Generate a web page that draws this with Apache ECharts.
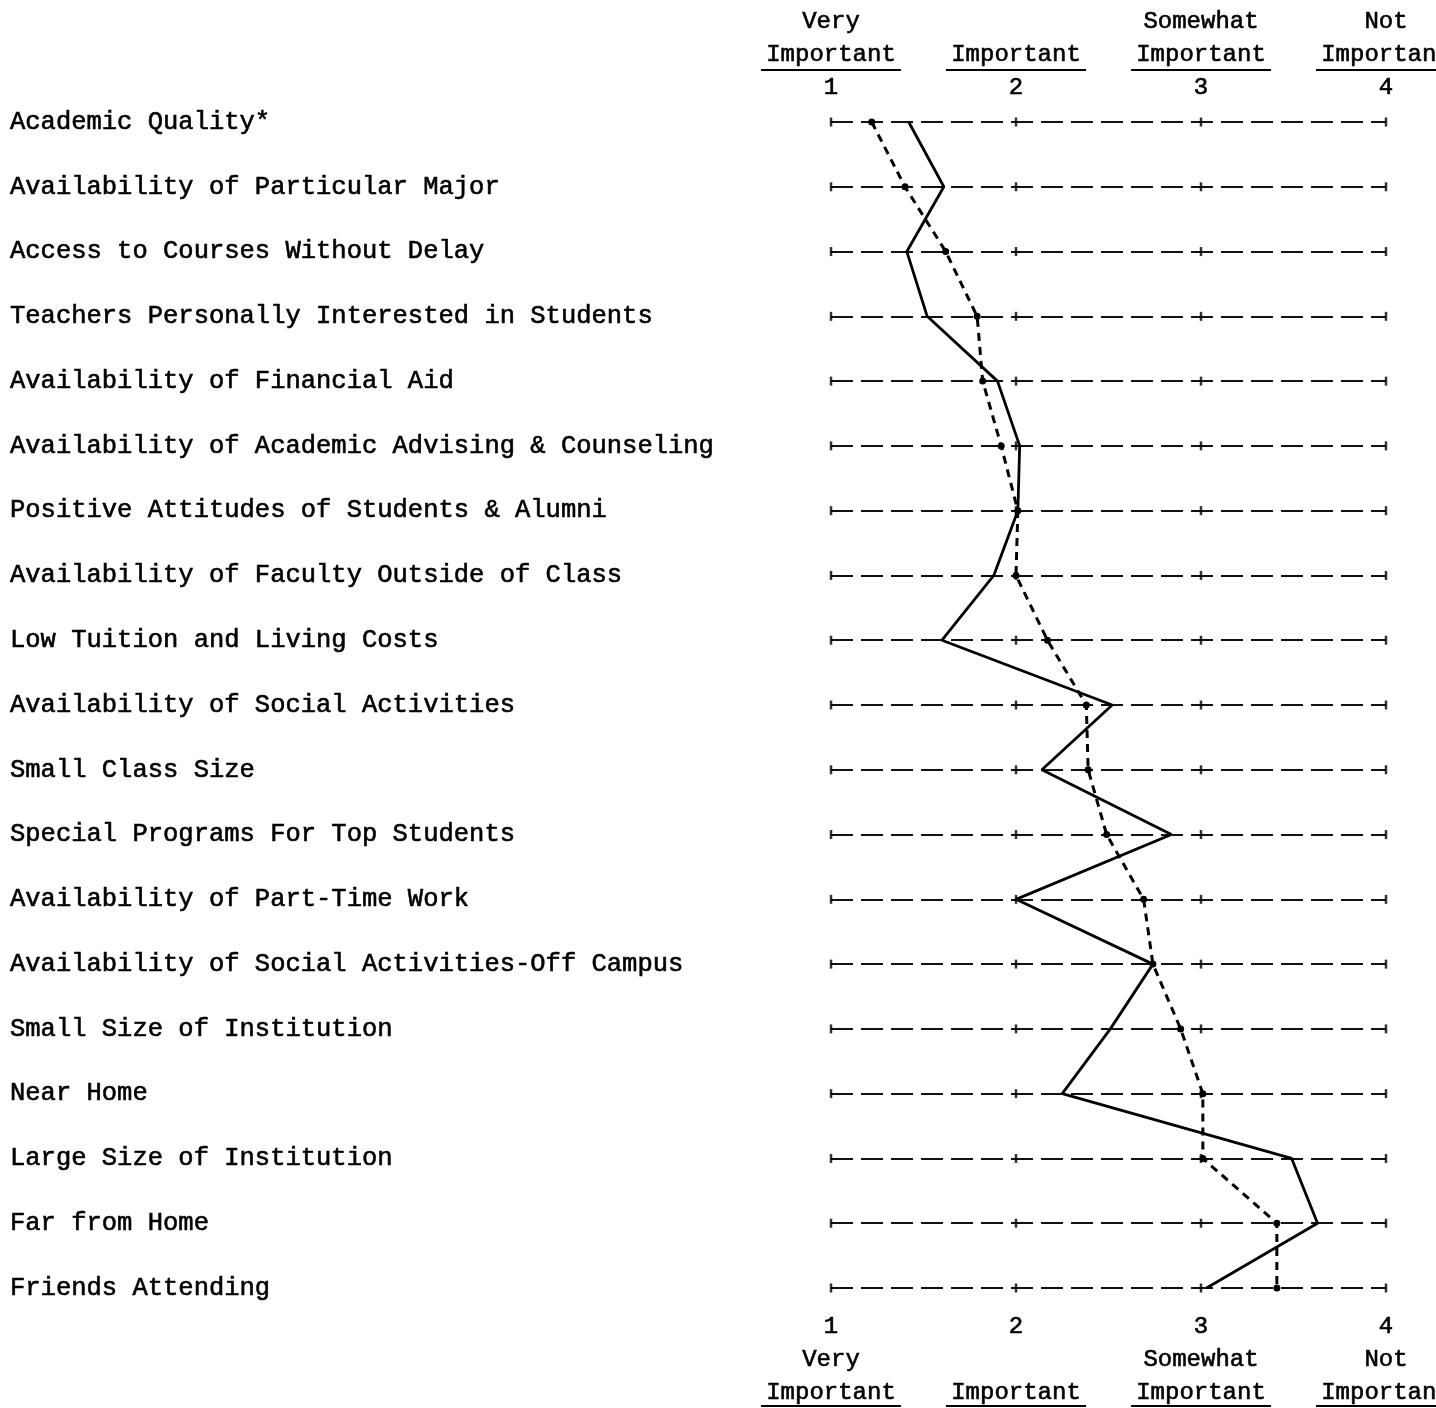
<!DOCTYPE html>
<html>
<head>
<meta charset="utf-8">
<script src="https://cdn.jsdelivr.net/npm/echarts@6/dist/echarts.min.js"></script>
<style>
  html, body { margin: 0; padding: 0; background: #fff; }
  #main { width: 1436px; height: 1408px; }
</style>
</head>
<body>
<div id="main"></div>
<script>
const categories = [
  'Academic Quality*',
  'Availability of Particular Major',
  'Access to Courses Without Delay',
  'Teachers Personally Interested in Students',
  'Availability of Financial Aid',
  'Availability of Academic Advising & Counseling',
  'Positive Attitudes of Students & Alumni',
  'Availability of Faculty Outside of Class',
  'Low Tuition and Living Costs',
  'Availability of Social Activities',
  'Small Class Size',
  'Special Programs For Top Students',
  'Availability of Part-Time Work',
  'Availability of Social Activities-Off Campus',
  'Small Size of Institution',
  'Near Home',
  'Large Size of Institution',
  'Far from Home',
  'Friends Attending'
];

// solid line
const solidValues = [1.42, 1.61, 1.41, 1.52, 1.90, 2.02, 2.01, 1.88, 1.60, 2.52,
  2.14, 2.84, 2.00, 2.74, 2.51, 2.25, 3.49, 3.63, 3.03];
// dashed line
const dashedValues = [1.22, 1.40, 1.62, 1.79, 1.82, 1.92, 2.01, 2.00, 2.17, 2.38,
  2.39, 2.49, 2.69, 2.74, 2.89, 3.01, 3.01, 3.41, 3.41];

const scaleValues = [1, 2, 3, 4];
const topLabels = ['Very\nImportant\n1', ' \nImportant\n2', 'Somewhat\nImportant\n3', 'Not\nImportant\n4'];
const bottomLabels = ['1\nVery\nImportant', '2\n \nImportant', '3\nSomewhat\nImportant', '4\nNot\nImportant'];

const font = 'Liberation Mono';
const ink = '#000';

const chart = echarts.init(document.getElementById('main'));

const tickMarks = [];
categories.forEach(c => scaleValues.forEach(v => tickMarks.push([v, c])));

// typewriter look: a thin outline thickens the strokes a little
const typeStyle = { fontFamily: font, color: ink, textBorderColor: ink, textBorderWidth: 0.6 };

const option = {
  backgroundColor: '#fff',
  animation: false,
  grid: { left: 831, right: 50, top: 122, bottom: 120, containLabel: false, outerBoundsMode: 'none' },
  xAxis: [
    {
      type: 'value', position: 'top', min: 1, max: 4, interval: 1,
      axisLine: { show: false }, axisTick: { show: false }, splitLine: { show: false },
      axisLabel: Object.assign({
        margin: 18, fontSize: 24, lineHeight: 33, align: 'center',
        formatter: v => topLabels[scaleValues.indexOf(v)] || ''
      }, typeStyle)
    },
    {
      type: 'value', position: 'bottom', min: 1, max: 4, interval: 1,
      axisLine: { show: false }, axisTick: { show: false }, splitLine: { show: false },
      axisLabel: Object.assign({
        margin: 22, fontSize: 24, lineHeight: 33, align: 'center',
        formatter: v => bottomLabels[scaleValues.indexOf(v)] || ''
      }, typeStyle)
    }
  ],
  yAxis: {
    type: 'category', data: categories, inverse: true, boundaryGap: false,
    axisLine: { show: false }, axisTick: { show: false },
    splitLine: { show: true, lineStyle: { color: '#111', width: 1.8, type: [22, 8] } },
    axisLabel: Object.assign({ align: 'left', margin: 821, fontSize: 25.5 }, typeStyle)
  },
  series: [
    {
      name: 'ticks', type: 'scatter', xAxisIndex: 0, data: tickMarks,
      symbol: 'rect', symbolSize: [2.5, 9], itemStyle: { color: ink }, z: 2, silent: true
    },
    {
      name: 'solid', type: 'line', xAxisIndex: 0, data: solidValues,
      showSymbol: false, lineStyle: { color: ink, width: 2.8 }, z: 5
    },
    {
      name: 'dashed', type: 'line', xAxisIndex: 0, data: dashedValues,
      symbol: 'circle', symbolSize: 7, itemStyle: { color: ink },
      lineStyle: { color: ink, width: 3, type: [8, 6] }, z: 6
    }
  ]
};

chart.setOption(option);

// underline the "Important" words at both scales
const lines = [];
scaleValues.forEach(v => {
  const px = chart.convertToPixel({ xAxisIndex: 0 }, v);
  [70, 1406].forEach(y => {
    lines.push({
      type: 'line',
      shape: { x1: px - 70, y1: y, x2: px + 70, y2: y },
      style: { stroke: ink, lineWidth: 2 }
    });
  });
});
chart.setOption({ graphic: lines });
</script>
</body>
</html>
